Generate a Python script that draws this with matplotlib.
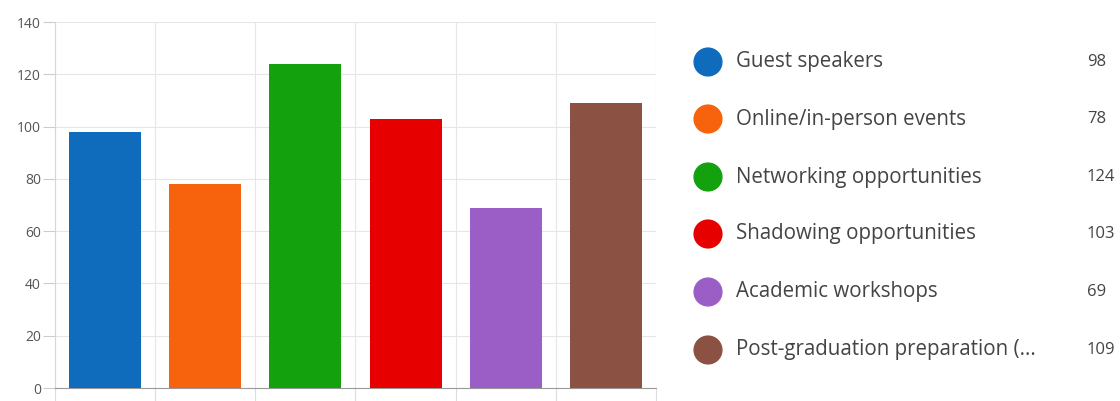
import matplotlib
matplotlib.use("Agg")
import matplotlib.pyplot as plt
import numpy as np

# survey answers
categories = ["Guest speakers", "Online/in-person events", "Networking opportunities",
              "Shadowing opportunities", "Academic workshops", "Post-graduation preparation (..."]
counts = [98, 78, 124, 103, 69, 109]
colors = ["#0F6CBD", "#F7630C", "#13A10E", "#E60000", "#9B5DC6", "#8B5244"]
yticks = [0, 20, 40, 60, 80, 100, 120, 140]

plt.rcParams['font.family'] = ['Open Sans', 'DejaVu Sans']

fig = plt.figure(figsize=(11.2, 4.01), dpi=100)
ax = fig.add_axes([55/1120, 1-388/401, 601/1120, 366/401])

x = np.arange(len(counts))
ax.bar(x, counts, width=0.72, color=colors, zorder=3)

ax.set_xlim(-0.5, len(counts)-0.5)
ax.set_ylim(0, 140)
ax.set_yticks(yticks)
ax.set_xticks(np.arange(len(counts)+1) - 0.5, minor=False)
ax.set_xticklabels([])
ax.tick_params(axis='y', labelsize=10, colors='#555555', length=9, pad=1, color='#cccccc')
ax.tick_params(axis='x', length=9, color='#dddddd')
ax.grid(True, color='#e6e6e6', linewidth=0.8, zorder=0)
for s in ['top', 'right']:
    ax.spines[s].set_visible(False)
ax.spines['left'].set_color('#e0d4cc')
ax.spines['bottom'].set_color('#999999')

# legend drawn by hand, pixel coordinates
lg = fig.add_axes([0, 0, 1, 1])
lg.set_xlim(0, 1120)
lg.set_ylim(401, 0)
lg.axis('off')
ys = [62, 119, 177, 234, 292, 350]
lg.scatter([708]*len(ys), ys, s=400, c=colors)
for yy, name, val in zip(ys, categories, counts):
    lg.text(736, yy, name, fontsize=14.8, color='#444444', va='center')
    lg.text(1087, yy, str(val), fontsize=12, color='#444444', va='center')

fig.savefig("out.png", dpi=100)
